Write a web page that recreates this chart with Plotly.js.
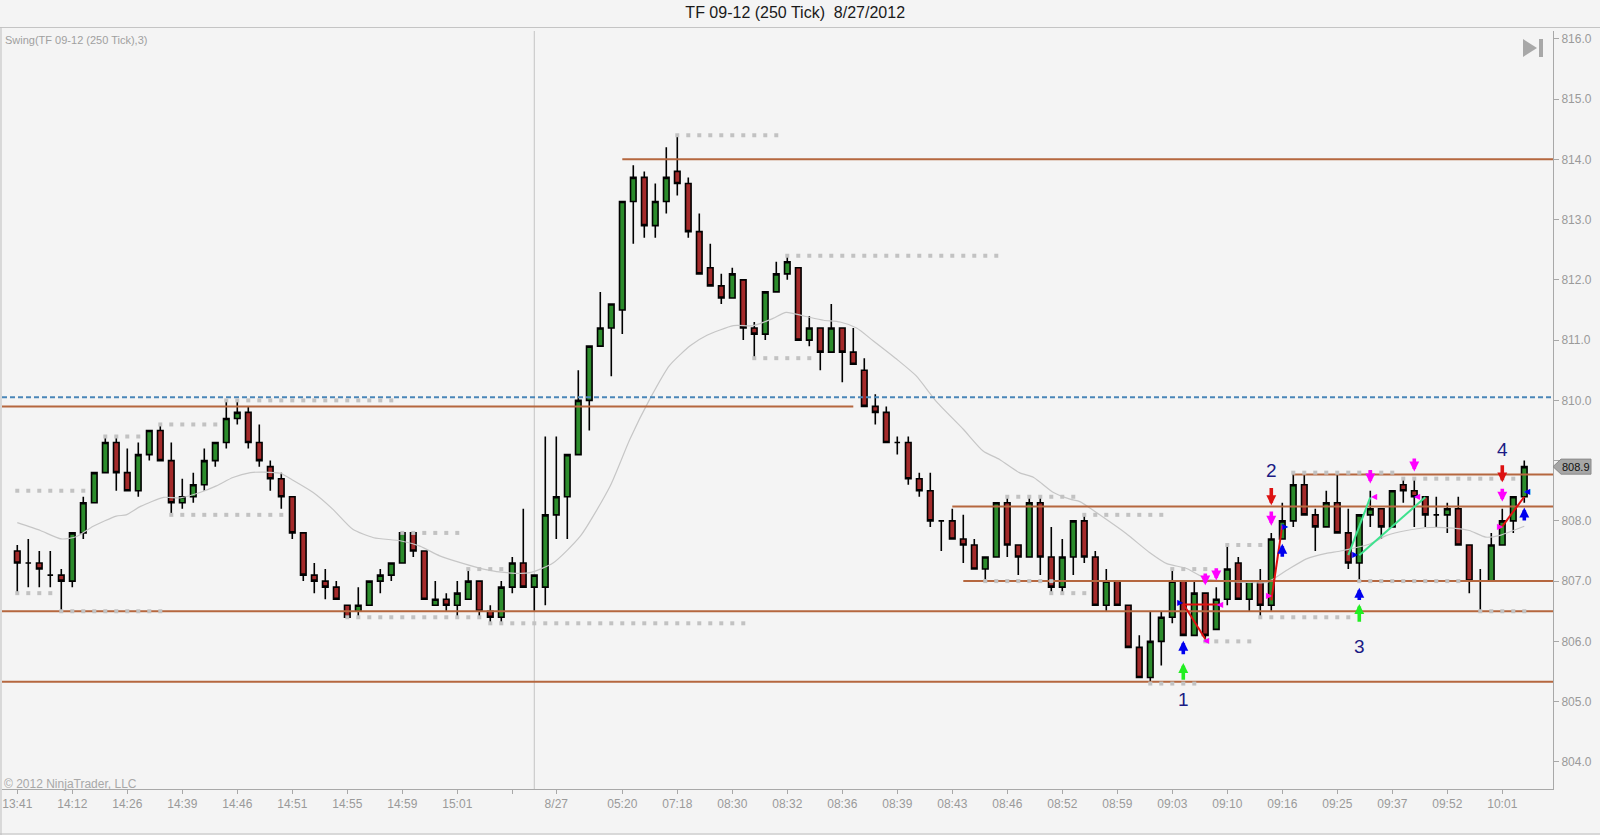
<!DOCTYPE html>
<html><head><meta charset="utf-8">
<script src="https://cdn.plot.ly/plotly-3.0.1.min.js"></script>
<style>html,body{margin:0;padding:0;background:#f4f4f4;}#chart{width:1600px;height:835px;}</style>
</head><body><div id="chart"></div>
<script>
// ---- candle data (bar index = position in arrays) ----
const openP  = [807.5,807.3,807.3,807.1,807.1,807.0,807.8,808.3,808.8,809.3,808.8,808.5,809.1,809.5,809.0,808.3,808.4,808.6,809.0,809.3,809.7,809.8,809.3,808.9,808.7,808.4,807.8,807.1,807.0,806.9,806.6,806.5,806.6,807.0,807.1,807.3,807.8,807.5,806.6,806.7,806.6,806.7,807.0,806.5,806.4,806.9,807.3,806.9,806.9,808.1,808.4,809.1,810.0,810.9,811.2,811.5,813.3,813.7,812.9,813.3,813.8,813.6,812.8,812.2,811.9,811.7,812.0,811.2,811.1,811.8,812.1,812.2,811.0,811.2,810.8,811.2,810.8,810.5,809.9,809.8,809.3,809.3,808.7,808.5,808.0,808.0,807.7,807.6,807.2,807.4,808.3,807.6,807.4,808.3,807.4,806.9,807.4,808.0,807.4,806.6,807.0,806.6,805.9,805.4,806.0,806.4,807.0,806.1,806.8,806.2,806.7,807.3,806.7,807.0,806.6,807.7,808.0,808.6,808.1,807.9,808.3,807.8,807.3,808.1,808.2,807.9,808.6,808.5,808.4,808.1,808.1,808.2,807.6,807.0,807.0,807.6,808.0,808.4];
const highP  = [807.6,807.7,807.5,807.5,807.2,807.8,808.4,808.8,809.4,809.4,809.2,809.3,809.5,809.6,809.3,808.7,808.8,809.2,809.3,810.0,810.0,809.9,809.6,809.0,808.8,808.4,807.8,807.3,807.2,807.0,806.6,806.9,807.0,807.2,807.3,807.8,807.8,807.5,807.0,806.8,807.0,807.2,807.0,806.6,807.0,807.4,808.2,807.1,809.4,809.4,809.1,810.5,810.9,811.8,811.6,813.3,813.9,813.8,813.6,814.2,814.4,813.7,813.1,812.6,812.1,812.2,812.0,811.3,811.8,812.3,812.4,812.2,811.4,811.2,811.6,811.2,811.2,810.7,810.1,809.9,809.4,809.4,808.8,808.8,808.0,808.2,808.1,807.7,807.4,808.3,808.4,807.6,808.4,808.4,807.9,807.7,808.0,808.1,807.5,807.2,807.0,806.6,806.1,806.5,806.5,807.2,807.0,807.0,806.8,806.9,807.6,807.4,807.0,807.2,807.8,808.3,808.8,808.8,808.2,808.5,808.8,808.2,808.1,808.5,808.2,808.5,808.7,808.7,808.4,808.4,808.3,808.4,807.6,807.2,807.8,808.2,808.4,809.0];
const lowP   = [806.8,806.9,806.9,806.9,806.5,806.9,807.7,808.3,808.8,808.5,808.5,808.4,809.0,809.0,808.1,808.2,808.3,808.5,808.9,809.2,809.6,809.2,808.9,808.5,808.2,807.7,807.0,806.8,806.7,806.7,806.4,806.4,806.6,806.8,807.0,807.3,807.4,806.7,806.6,806.5,806.4,806.7,806.4,806.3,806.3,806.8,806.9,806.5,806.6,807.7,807.7,809.1,809.5,810.9,810.4,811.1,812.6,812.7,812.7,813.1,813.4,812.7,812.1,811.9,811.6,811.7,811.0,810.7,811.0,811.8,812.0,811.0,810.9,810.5,810.8,810.3,810.6,809.9,809.6,809.3,809.1,808.6,808.4,807.9,807.5,807.7,807.3,807.2,807.0,807.4,807.4,807.1,807.4,807.1,806.8,806.8,807.1,807.3,806.6,806.5,806.6,805.9,805.4,805.3,805.6,806.3,806.1,806.1,806.0,806.2,806.6,806.7,806.5,806.4,806.5,807.7,807.9,808.1,807.5,807.9,807.8,807.2,807.0,807.9,807.7,807.9,808.3,807.9,807.9,807.9,807.8,807.6,806.8,806.5,807.0,807.6,807.8,808.3];
const closeP = [807.3,807.3,807.2,807.1,807.0,807.8,808.3,808.8,809.3,808.8,808.5,809.1,809.5,809.0,808.3,808.4,808.6,809.0,809.3,809.7,809.8,809.3,809.0,808.7,808.4,807.8,807.1,807.0,806.9,806.7,806.4,806.6,807.0,807.1,807.3,807.8,807.5,806.7,806.7,806.6,806.8,807.0,806.5,806.4,806.9,807.3,806.9,807.1,808.1,808.4,809.1,810.0,810.9,811.2,811.6,813.3,813.7,812.9,813.3,813.7,813.6,812.8,812.1,811.9,811.7,812.1,811.2,811.1,811.8,812.1,812.3,811.0,811.2,810.8,811.2,810.8,810.6,809.9,809.8,809.3,809.3,808.7,808.5,808.0,808.0,807.7,807.6,807.2,807.4,808.3,807.6,807.4,808.3,807.4,806.9,807.4,808.0,807.4,806.6,807.0,806.6,805.9,805.4,806.0,806.4,807.0,806.1,806.8,806.1,806.7,807.2,806.7,807.0,806.6,807.7,808.0,808.6,808.1,807.9,808.3,807.8,807.3,808.1,808.2,807.9,808.5,808.5,808.4,808.1,808.1,808.2,807.6,807.0,807.0,807.6,808.0,808.4,808.9];

// ---- x-axis labels (bar index -> text) ----
const tickIdx  = [0,5,10,15,20,25,30,35,40,45,49,55,60,65,70,75,80,85,90,95,100,105,110,115,120,125,130,135];
const tickText = ['13:41','14:12','14:26','14:39','14:46','14:51','14:55','14:59','15:01','','8/27','05:20','07:18','08:30','08:32','08:36','08:39','08:43','08:46','08:52','08:59','09:03','09:10','09:16','09:25','09:37','09:52','10:01'];
const priceTicks = [804,805,806,807,808,809,810,811,812,813,814,815,816];
const priceTickText = ['804.0','805.0','806.0','807.0','808.0','','810.0','811.0','812.0','813.0','814.0','815.0','816.0'];

// ---- moving average (bar position, price) ----
const maX = [0,2.1,4,5.4,6.9,9,9.9,11.2,13.3,14.8,16.6,18.1,19.6,21.2,22.4,23.9,25.1,26.9,28.7,30.5,32.4,34.8,36.6,38.4,40.2,42.6,44.5,46.6,48.7,51.2,53.9,55.7,57.5,59.3,61.2,62.7,65.1,66.9,68.7,69.9,71.5,73.3,74.8,76.3,77.8,79.9,81.7,83.6,86.0,87.8,89.3,91.1,92.4,94.2,95.7,96.6,98.4,100.8,102.9,104.5,106.3,108.1,109.9,111.8,113.6,115.4,117.2,119.0,120.3,123.0,124.5,126.3,128.4,130.5,132.0,133.5,134.8,136.0,137.0];
const maY = [807.97,807.84,807.70,807.74,807.91,808.08,808.10,808.24,808.39,808.38,808.47,808.58,808.72,808.80,808.81,808.79,808.67,808.47,808.19,807.86,807.72,807.67,807.58,807.42,807.31,807.19,807.14,807.14,807.30,807.75,808.58,809.36,810.02,810.58,810.91,811.08,811.24,811.24,811.36,811.46,811.40,811.33,811.30,811.20,810.99,810.69,810.41,809.97,809.52,809.16,809.02,808.80,808.72,808.47,808.36,808.32,808.10,807.79,807.48,807.29,807.21,807.04,807.00,806.98,806.98,807.18,807.37,807.46,807.50,807.62,807.76,807.84,807.89,807.88,807.84,807.73,807.76,807.84,807.91];

// ---- horizontal support / resistance lines ----
const levStart = [null,null,null,55,85,86,116];   // null = from left edge
const levPrice = [806.5,805.33,809.9,814.0,808.24,807.0,808.77];
const levEnd   = [null,null,76,null,null,null,null]; // null = to right edge
const bluePrice = 810.05;
const sessionBreak = 47;

// ---- swing dotted levels ----
const swStart = [0,0,4,8,13,14,19,30,35,41,43,60,67,70,88,90,94,97,103,105,108,110,113,116,122,126,133];
const swEnd   = [6,3,13,11,18,24,34,42,40,44,66,69,72,89,94,96,97,104,107,108,112,113,121,125,131,136,137];
const swLevel = [808.5,806.8,806.5,809.4,809.6,808.1,810.0,806.4,807.8,807.2,806.3,814.4,810.7,812.4,807.0,808.4,806.8,808.1,805.3,807.2,806.0,807.6,806.4,808.8,807.0,808.7,806.5];

// ---- swing signals ----
const arrX    = [106,122,106,115,122,137,114,135,108,109,114,123,127,135];
const arrTip  = [805.64,806.62,806.01,807.62,806.89,808.22,808.26,808.64,806.93,807.01,807.92,808.62,808.82,808.32];
const arrTail = [805.34,806.30,805.76,807.38,806.66,807.98,808.57,808.95,807.15,807.24,808.18,808.87,809.06,808.56];
const arrCol  = ['#22ee22','#22ee22','#0000ee','#0000ee','#0000ee','#0000ee','#dd1111','#dd1111','#ff00ff','#ff00ff','#ff00ff','#ff00ff','#ff00ff','#ff00ff'];
const numX = [106,114,122,135];
const numY = [805.04,808.83,805.92,809.19];
const numText = ['1','2','3','4'];
const triX = [105.75,115.3,121.7,137.3,108.1,109.4,113.8,123.35,127.3,134.8];
const triY = [806.65,807.90,807.45,808.48,806.02,806.61,806.76,808.40,808.40,807.91];
const triTxt = ['▶','▶','▶','◀','◀','◀','▶','◀','◀','▶'];
const triCol = ['#0000ee','#0000ee','#0000ee','#0000ee','#ff00ff','#ff00ff','#ff00ff','#ff00ff','#ff00ff','#ff00ff'];
const redSegX0 = [106,106,114,135], redSegY0 = [806.62,806.61,806.68,807.91];
const redSegX1 = [108,109.3,115,137], redSegY1 = [806.04,806.61,807.92,808.40];
const grnSegX0 = [121,122], grnSegY0 = [807.43,807.43];
const grnSegX1 = [123,128], grnSegY1 = [808.39,808.39];

// ---- build ----
const XL = -1.39, XR = 139.61;
const N = openP.length;
const idx = openP.map((_, i) => i);
const NARROW = "'Liberation Sans Narrow','Arial Narrow','Liberation Sans',Arial,sans-serif";
const SANS = "'Liberation Sans',Arial,sans-serif";
const traces = [];

traces.push({
  type: 'candlestick', x: idx, open: openP, high: highP, low: lowP, close: closeP,
  increasing: {line: {color: '#000', width: 1.6}, fillcolor: '#2c8c2c'},
  decreasing: {line: {color: '#000', width: 1.6}, fillcolor: '#a42a2a'},
  whiskerwidth: 0, hoverinfo: 'skip', showlegend: false
});
traces.push({type: 'scatter', mode: 'lines', x: maX, y: maY,
  line: {color: '#c6c6c6', width: 1.2, shape: 'spline', smoothing: 0.6}, hoverinfo: 'skip', showlegend: false});

// brown lines
const bx = [], by = [];
levPrice.forEach((p, i) => {
  bx.push(levStart[i] === null ? XL : levStart[i], levEnd[i] === null ? XR : levEnd[i], null);
  by.push(p, p, null);
});
traces.push({type: 'scatter', mode: 'lines', x: bx, y: by, line: {color: '#b5673f', width: 2},
  hoverinfo: 'skip', showlegend: false, cliponaxis: true});
traces.push({type: 'scatter', mode: 'lines', x: [XL, XR], y: [bluePrice, bluePrice],
  line: {color: '#4a86b8', width: 2, dash: '5px,3px'}, hoverinfo: 'skip', showlegend: false});

// swing dots
const dx = [], dy = [];
swLevel.forEach((lv, i) => { for (let k = swStart[i]; k <= swEnd[i]; k++) { dx.push(k); dy.push(lv); } });
traces.push({type: 'scatter', mode: 'markers', x: dx, y: dy,
  marker: {symbol: 'square', size: 4, color: '#c2c2c2'}, hoverinfo: 'skip', showlegend: false});

function segs(x0, y0, x1, y1) {
  const sx = [], sy = [];
  x0.forEach((v, i) => { sx.push(v, x1[i], null); sy.push(y0[i], y1[i], null); });
  return [sx, sy];
}
const rs = segs(redSegX0, redSegY0, redSegX1, redSegY1);
traces.push({type: 'scatter', mode: 'lines', x: rs[0], y: rs[1], line: {color: '#e01010', width: 2}, hoverinfo: 'skip', showlegend: false});
const gs = segs(grnSegX0, grnSegY0, grnSegX1, grnSegY1);
traces.push({type: 'scatter', mode: 'lines', x: gs[0], y: gs[1], line: {color: '#3ee28e', width: 2}, hoverinfo: 'skip', showlegend: false});

const annotations = [];
arrX.forEach((x, i) => annotations.push({
  x: x, y: arrTip[i], ax: x, ay: arrTail[i], axref: 'x', ayref: 'y', xref: 'x', yref: 'y',
  text: '', showarrow: true, arrowhead: 2, arrowsize: 0.55, arrowwidth: 3.6, arrowcolor: arrCol[i], standoff: 0, startstandoff: 0
}));
numX.forEach((x, i) => annotations.push({x: x, y: numY[i], xref: 'x', yref: 'y', text: numText[i], showarrow: false,
  font: {family: SANS, size: 19, color: '#1b1b84'}}));
triX.forEach((x, i) => annotations.push({x: x, y: triY[i], xref: 'x', yref: 'y', text: triTxt[i], showarrow: false,
  font: {family: 'DejaVu Sans', size: 8, color: triCol[i]}}));
annotations.push({xref: 'paper', yref: 'paper', x: 0, y: 1, xanchor: 'left', yanchor: 'top', xshift: 1, yshift: -1,
  text: 'Swing(TF 09-12 (250 Tick),3)', showarrow: false, font: {family: NARROW, size: 11, color: '#a0a0a0'}});
annotations.push({xref: 'paper', yref: 'paper', x: 0, y: 0, xanchor: 'left', yanchor: 'bottom', xshift: 0, yshift: -4,
  text: '© 2012 NinjaTrader, LLC', showarrow: false, font: {family: NARROW, size: 12, color: '#a8a8a8'}});
annotations.push({xref: 'paper', yref: 'y', x: 1.0148, y: closeP[N - 1], xanchor: 'center', yanchor: 'middle',
  text: closeP[N - 1].toFixed(1), showarrow: false, font: {family: SANS, size: 11, color: '#111'}});

const px = v => (v - 2) / 1551, py = v => (789 - v) / 758;
const shapes = [
  {type: 'line', xref: 'x', yref: 'paper', x0: sessionBreak, x1: sessionBreak, y0: 0, y1: 1, line: {color: '#c4c4c4', width: 1}, layer: 'below'},
  {type: 'line', xref: 'paper', yref: 'paper', x0: px(0), x1: px(1600), y0: py(27.5), y1: py(27.5), line: {color: '#c4c4c4', width: 1}},
  {type: 'line', xref: 'paper', yref: 'paper', x0: px(1), x1: px(1), y0: py(27.5), y1: py(835), line: {color: '#bdbdbd', width: 1}},
  {type: 'line', xref: 'paper', yref: 'paper', x0: px(0), x1: px(1600), y0: py(834), y1: py(834), line: {color: '#bdbdbd', width: 1}},
  {type: 'path', xref: 'paper', yref: 'paper', path: `M ${px(1523)} ${py(39)} L ${px(1537)} ${py(48)} L ${px(1523)} ${py(57)} Z`, fillcolor: '#a8a8a8', line: {width: 0}},
  {type: 'rect', xref: 'paper', yref: 'paper', x0: px(1539), x1: px(1543), y0: py(39), y1: py(57), fillcolor: '#a8a8a8', line: {width: 0}},
  {type: 'path', xref: 'paper', yref: 'y', path: `M 1 ${closeP[N-1]} L ${px(1561)} ${closeP[N-1]+0.125} L ${px(1591)} ${closeP[N-1]+0.125} L ${px(1591)} ${closeP[N-1]-0.125} L ${px(1561)} ${closeP[N-1]-0.125} Z`,
    fillcolor: '#a6a6a6', line: {color: '#8a8a8a', width: 1}, layer: 'above'}
];

const layout = {
  width: 1600, height: 835,
  margin: {l: 2, r: 47, t: 31, b: 46, pad: 0},
  paper_bgcolor: '#f4f4f4', plot_bgcolor: '#f4f4f4',
  title: {text: 'TF 09-12 (250 Tick)\u00a0\u00a08/27/2012', xref: 'container', yref: 'container', x: 0.497, y: 0.985,
    xanchor: 'center', yanchor: 'middle', font: {family: SANS, size: 16, color: '#1a1a1a'}},
  showlegend: false, hovermode: false, boxgap: 0.28,
  xaxis: {range: [XL, XR], rangeslider: {visible: false}, showgrid: false, zeroline: false,
    showline: true, linecolor: '#a8a8a8', linewidth: 1, ticks: 'outside', ticklen: 4, tickcolor: '#a8a8a8',
    tickmode: 'array', tickvals: tickIdx, ticktext: tickText, tickangle: 0,
    tickfont: {family: NARROW, size: 12, color: '#9a9a9a'}},
  yaxis: {range: [803.55, 816.13], side: 'right', showgrid: false, zeroline: false,
    showline: true, linecolor: '#a8a8a8', linewidth: 1, ticks: 'outside', ticklen: 5, tickcolor: '#a8a8a8',
    tickmode: 'array', tickvals: priceTicks, ticktext: priceTickText,
    tickfont: {family: NARROW, size: 12, color: '#9a9a9a'}},
  annotations: annotations, shapes: shapes
};
Plotly.newPlot('chart', traces, layout, {staticPlot: true, displayModeBar: false});
</script></body></html>
